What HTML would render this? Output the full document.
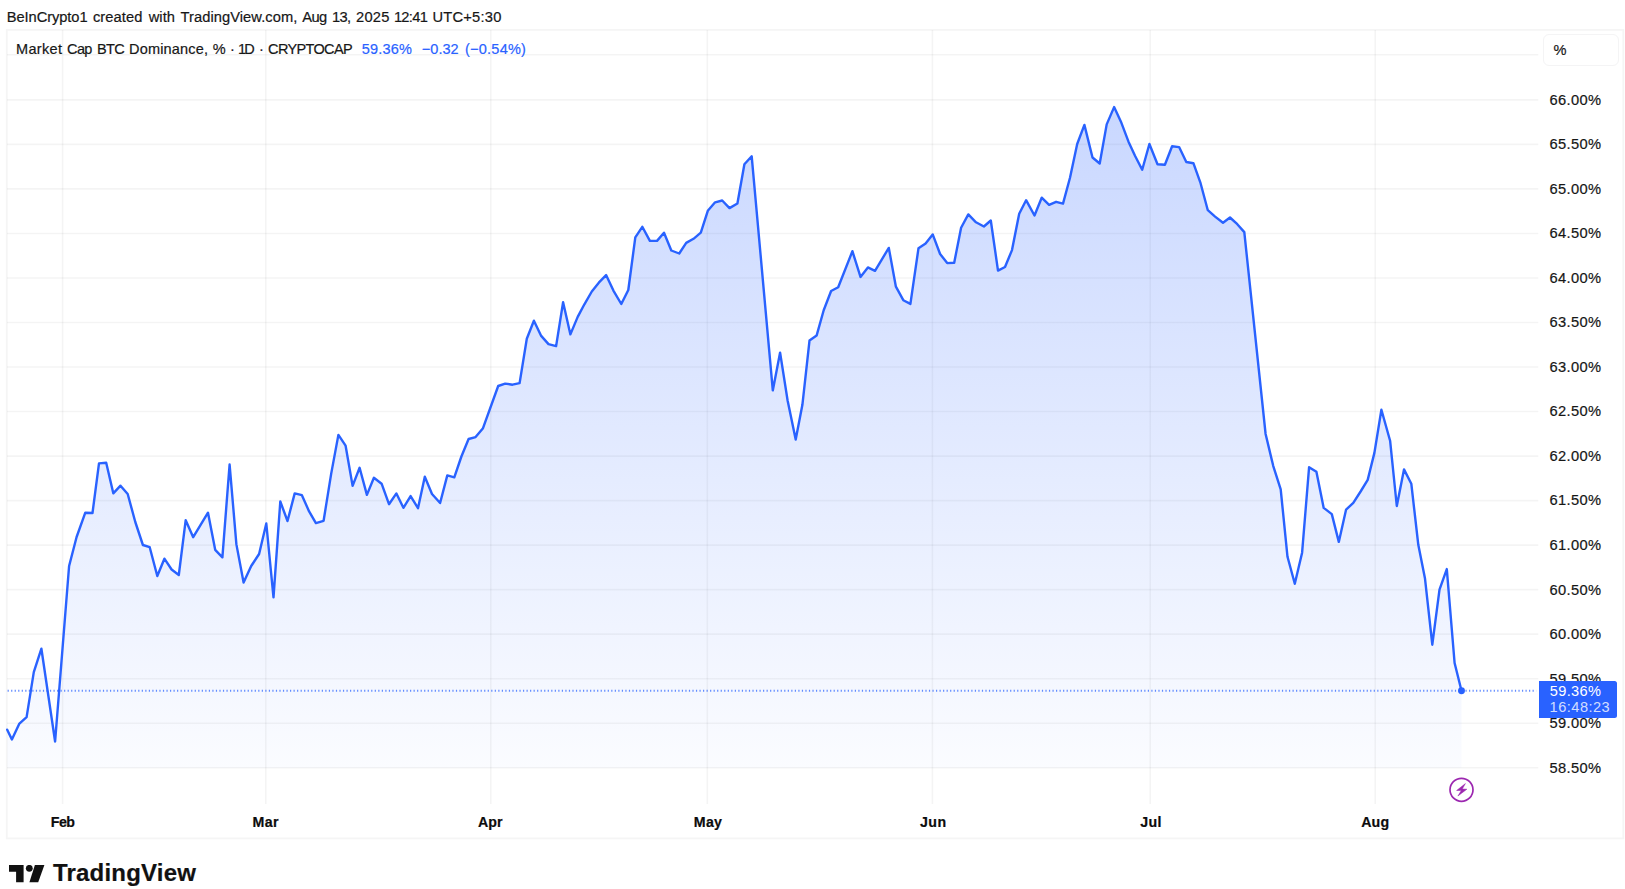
<!DOCTYPE html>
<html lang="en"><head><meta charset="utf-8"><title>Market Cap BTC Dominance</title>
<style>
html,body{margin:0;padding:0;background:#fff;}
body{width:1625px;height:889px;position:relative;overflow:hidden;font-family:"Liberation Sans",Arial,sans-serif;color:#171717;font-size:14px;}
.s{position:absolute;white-space:pre;line-height:20px;height:20px;-webkit-text-stroke:0.2px currentColor;}
svg.chart{position:absolute;left:0;top:0;}
.pct{position:absolute;left:1542.5px;top:34.3px;width:76.3px;height:31.7px;border:1px solid #f4f4f5;border-radius:6px;box-sizing:border-box;background:#fff;}
.last{position:absolute;left:1539px;top:681px;width:78px;height:36.6px;background:#2962ff;border-radius:0 2.5px 2.5px 0;}
.logo{position:absolute;left:9px;top:864.5px;}
</style></head><body>
<svg class="chart" width="1625" height="889" viewBox="0 0 1625 889">
<defs>
<linearGradient id="ag" gradientUnits="userSpaceOnUse" x1="0" y1="30" x2="0" y2="768">
<stop offset="0" stop-color="#2962ff" stop-opacity="0.28"/>
<stop offset="1" stop-color="#2962ff" stop-opacity="0.02"/>
</linearGradient>
</defs>
<rect x="6.8" y="29.9" width="1616.5" height="808.5" fill="none" stroke="#000" stroke-opacity="0.04" stroke-width="1.9"/>
<g stroke="#000" stroke-opacity="0.042" stroke-width="1.6">
<line x1="7" x2="1538.3" y1="54.8" y2="54.8"/>
<line x1="7" x2="1538.3" y1="99.9" y2="99.9"/>
<line x1="7" x2="1538.3" y1="144.4" y2="144.4"/>
<line x1="7" x2="1538.3" y1="188.9" y2="188.9"/>
<line x1="7" x2="1538.3" y1="233.5" y2="233.5"/>
<line x1="7" x2="1538.3" y1="278.0" y2="278.0"/>
<line x1="7" x2="1538.3" y1="322.5" y2="322.5"/>
<line x1="7" x2="1538.3" y1="367.0" y2="367.0"/>
<line x1="7" x2="1538.3" y1="411.5" y2="411.5"/>
<line x1="7" x2="1538.3" y1="456.1" y2="456.1"/>
<line x1="7" x2="1538.3" y1="500.6" y2="500.6"/>
<line x1="7" x2="1538.3" y1="545.1" y2="545.1"/>
<line x1="7" x2="1538.3" y1="589.6" y2="589.6"/>
<line x1="7" x2="1538.3" y1="634.1" y2="634.1"/>
<line x1="7" x2="1538.3" y1="678.7" y2="678.7"/>
<line x1="7" x2="1538.3" y1="723.2" y2="723.2"/>
<line x1="7" x2="1538.3" y1="767.7" y2="767.7"/>
<line x1="62.6" x2="62.6" y1="30" y2="804.0"/>
<line x1="265.8" x2="265.8" y1="30" y2="804.0"/>
<line x1="490.8" x2="490.8" y1="30" y2="804.0"/>
<line x1="707.3" x2="707.3" y1="30" y2="804.0"/>
<line x1="932.4" x2="932.4" y1="30" y2="804.0"/>
<line x1="1150.2" x2="1150.2" y1="30" y2="804.0"/>
<line x1="1375.2" x2="1375.2" y1="30" y2="804.0"/>
</g>
<path d="M7.2,768.1 L7.2,729.7 L11.9,739.4 L19.4,723.6 L26.6,717.1 L33.8,672.1 L41.4,648.7 L55.1,741.5 L69.1,566.0 L76.6,537.0 L85.3,512.7 L92.5,513.0 L99.0,463.4 L106.2,462.7 L113.3,493.3 L120.5,485.7 L127.7,494.0 L135.3,522.0 L142.9,545.0 L149.7,547.2 L157.3,576.0 L164.4,558.7 L171.6,569.5 L178.8,575.0 L185.7,520.2 L193.2,537.2 L208.0,512.7 L215.2,549.8 L222.4,557.3 L229.6,464.5 L236.4,544.4 L243.6,582.5 L251.2,566.0 L259.1,554.0 L266.3,523.5 L273.5,597.3 L280.3,501.5 L287.5,521.0 L294.7,493.4 L301.9,495.2 L309.1,511.4 L315.9,523.1 L323.6,520.8 L331.2,473.6 L338.4,434.9 L345.6,445.7 L352.6,485.9 L359.6,467.8 L366.9,494.9 L373.9,477.8 L381.6,483.7 L389.0,504.2 L396.4,493.4 L403.4,507.8 L410.6,496.1 L418.0,508.2 L424.8,476.7 L432.0,494.0 L440.1,503.0 L447.3,475.4 L454.3,477.4 L461.4,456.5 L468.6,439.0 L475.6,437.1 L483.0,428.2 L498.2,386.0 L505.2,383.6 L512.5,384.7 L519.6,383.1 L526.8,338.8 L533.9,320.7 L541.2,335.9 L548.5,344.1 L556.1,346.1 L563.1,302.3 L570.4,334.4 L577.7,316.9 L584.4,304.3 L591.8,291.5 L598.8,282.7 L606.1,275.1 L613.4,290.6 L621.3,304.0 L628.3,290.0 L635.3,237.4 L642.3,226.8 L649.9,240.9 L657.0,240.9 L664.0,232.7 L671.3,250.5 L679.2,253.5 L686.2,242.9 L693.5,238.8 L700.8,232.7 L707.8,210.8 L715.1,202.3 L722.2,200.5 L729.5,208.1 L737.4,203.5 L744.4,164.3 L751.7,156.3 L772.8,390.4 L780.1,352.6 L787.6,400.5 L795.7,439.5 L802.4,404.8 L809.5,340.6 L816.6,335.6 L823.7,310.3 L831.1,291.0 L838.2,287.3 L852.4,251.2 L860.5,276.9 L867.9,267.4 L875.0,270.8 L888.8,247.9 L895.9,286.7 L903.3,300.2 L910.4,303.9 L918.5,248.2 L925.6,243.5 L932.7,234.4 L940.1,254.0 L947.2,263.1 L954.2,262.7 L961.1,227.7 L968.3,214.4 L976.0,222.3 L983.9,226.5 L990.8,220.5 L998.0,270.6 L1005.0,267.0 L1012.0,250.1 L1019.2,213.7 L1026.1,200.2 L1034.5,215.5 L1041.7,197.7 L1049.1,204.9 L1056.1,201.8 L1063.0,203.6 L1070.0,177.7 L1077.2,144.0 L1084.4,124.9 L1092.5,157.5 L1099.7,163.5 L1106.7,124.4 L1114.1,107.1 L1121.3,122.6 L1128.5,141.7 L1135.0,155.7 L1142.2,169.8 L1149.4,144.0 L1157.5,164.2 L1164.9,164.7 L1172.1,146.2 L1179.1,147.1 L1186.3,162.0 L1193.4,163.2 L1200.3,182.3 L1207.8,210.2 L1215.1,216.6 L1223.0,222.8 L1230.0,217.5 L1237.3,224.2 L1244.3,232.1 L1265.6,434.0 L1273.2,465.8 L1280.7,489.3 L1287.5,556.8 L1294.8,583.8 L1302.1,552.7 L1309.1,467.2 L1316.4,471.8 L1323.7,507.9 L1331.8,514.1 L1338.8,541.9 L1346.1,509.6 L1353.3,502.8 L1360.6,491.5 L1367.7,479.9 L1374.4,452.9 L1381.4,409.7 L1390.1,440.7 L1396.8,506.0 L1404.0,469.4 L1411.3,483.7 L1418.3,544.8 L1425.0,578.6 L1432.3,644.7 L1439.5,589.6 L1446.8,569.1 L1454.6,663.0 L1461.5,690.8 L1461.5,768.1 Z" fill="url(#ag)"/>
<polyline points="7.2,729.7 11.9,739.4 19.4,723.6 26.6,717.1 33.8,672.1 41.4,648.7 55.1,741.5 69.1,566.0 76.6,537.0 85.3,512.7 92.5,513.0 99.0,463.4 106.2,462.7 113.3,493.3 120.5,485.7 127.7,494.0 135.3,522.0 142.9,545.0 149.7,547.2 157.3,576.0 164.4,558.7 171.6,569.5 178.8,575.0 185.7,520.2 193.2,537.2 208.0,512.7 215.2,549.8 222.4,557.3 229.6,464.5 236.4,544.4 243.6,582.5 251.2,566.0 259.1,554.0 266.3,523.5 273.5,597.3 280.3,501.5 287.5,521.0 294.7,493.4 301.9,495.2 309.1,511.4 315.9,523.1 323.6,520.8 331.2,473.6 338.4,434.9 345.6,445.7 352.6,485.9 359.6,467.8 366.9,494.9 373.9,477.8 381.6,483.7 389.0,504.2 396.4,493.4 403.4,507.8 410.6,496.1 418.0,508.2 424.8,476.7 432.0,494.0 440.1,503.0 447.3,475.4 454.3,477.4 461.4,456.5 468.6,439.0 475.6,437.1 483.0,428.2 498.2,386.0 505.2,383.6 512.5,384.7 519.6,383.1 526.8,338.8 533.9,320.7 541.2,335.9 548.5,344.1 556.1,346.1 563.1,302.3 570.4,334.4 577.7,316.9 584.4,304.3 591.8,291.5 598.8,282.7 606.1,275.1 613.4,290.6 621.3,304.0 628.3,290.0 635.3,237.4 642.3,226.8 649.9,240.9 657.0,240.9 664.0,232.7 671.3,250.5 679.2,253.5 686.2,242.9 693.5,238.8 700.8,232.7 707.8,210.8 715.1,202.3 722.2,200.5 729.5,208.1 737.4,203.5 744.4,164.3 751.7,156.3 772.8,390.4 780.1,352.6 787.6,400.5 795.7,439.5 802.4,404.8 809.5,340.6 816.6,335.6 823.7,310.3 831.1,291.0 838.2,287.3 852.4,251.2 860.5,276.9 867.9,267.4 875.0,270.8 888.8,247.9 895.9,286.7 903.3,300.2 910.4,303.9 918.5,248.2 925.6,243.5 932.7,234.4 940.1,254.0 947.2,263.1 954.2,262.7 961.1,227.7 968.3,214.4 976.0,222.3 983.9,226.5 990.8,220.5 998.0,270.6 1005.0,267.0 1012.0,250.1 1019.2,213.7 1026.1,200.2 1034.5,215.5 1041.7,197.7 1049.1,204.9 1056.1,201.8 1063.0,203.6 1070.0,177.7 1077.2,144.0 1084.4,124.9 1092.5,157.5 1099.7,163.5 1106.7,124.4 1114.1,107.1 1121.3,122.6 1128.5,141.7 1135.0,155.7 1142.2,169.8 1149.4,144.0 1157.5,164.2 1164.9,164.7 1172.1,146.2 1179.1,147.1 1186.3,162.0 1193.4,163.2 1200.3,182.3 1207.8,210.2 1215.1,216.6 1223.0,222.8 1230.0,217.5 1237.3,224.2 1244.3,232.1 1265.6,434.0 1273.2,465.8 1280.7,489.3 1287.5,556.8 1294.8,583.8 1302.1,552.7 1309.1,467.2 1316.4,471.8 1323.7,507.9 1331.8,514.1 1338.8,541.9 1346.1,509.6 1353.3,502.8 1360.6,491.5 1367.7,479.9 1374.4,452.9 1381.4,409.7 1390.1,440.7 1396.8,506.0 1404.0,469.4 1411.3,483.7 1418.3,544.8 1425.0,578.6 1432.3,644.7 1439.5,589.6 1446.8,569.1 1454.6,663.0 1461.5,690.8" fill="none" stroke="#2962ff" stroke-width="2.4" stroke-linejoin="round" stroke-linecap="round"/>
<line x1="7.6" x2="1536.2" y1="690.8" y2="690.8" stroke="#2962ff" stroke-width="1.9" stroke-dasharray="1.2 2.33" opacity="0.72"/>
<circle cx="1461.5" cy="690.8" r="3.45" fill="#2962ff"/>
<g transform="translate(1461.5,789.8)" fill="none" stroke="#9c27b0">
<circle r="11.5" stroke-width="1.7"/>
<path d="M3.9,-6.2 L-4.9,0.7 L-0.2,0.8 L-3.6,6.2 L5.4,-0.6 L0.8,-0.8 Z" fill="#9c27b0" stroke="#9c27b0" stroke-width="0.5" stroke-linejoin="round"/>
</g>
</svg>
<div class="pct"></div>
<span class="s" style="left:6.75px;top:6.81px;font-size:14.7px;letter-spacing:-0.082px;">BeInCrypto1</span>
<span class="s" style="left:92.90px;top:6.81px;font-size:14.7px;letter-spacing:0.080px;">created</span>
<span class="s" style="left:148.70px;top:6.81px;font-size:14.7px;letter-spacing:0.050px;">with</span>
<span class="s" style="left:180.50px;top:6.81px;font-size:14.7px;letter-spacing:0.057px;">TradingView.com,</span>
<span class="s" style="left:302.30px;top:6.81px;font-size:14.7px;letter-spacing:-0.682px;">Aug</span>
<span class="s" style="left:331.90px;top:6.81px;font-size:14.7px;letter-spacing:-0.618px;">13,</span>
<span class="s" style="left:356.00px;top:6.81px;font-size:14.7px;letter-spacing:0.232px;">2025</span>
<span class="s" style="left:393.90px;top:6.81px;font-size:14.7px;letter-spacing:-0.697px;">12:41</span>
<span class="s" style="left:432.40px;top:6.81px;font-size:14.7px;letter-spacing:0.231px;">UTC+5:30</span>
<span class="s" style="left:16.00px;top:38.78px;font-size:14.5px;letter-spacing:0.323px;">Market</span>
<span class="s" style="left:67.10px;top:38.78px;font-size:14.5px;letter-spacing:-0.668px;">Cap</span>
<span class="s" style="left:97.10px;top:38.78px;font-size:14.5px;letter-spacing:-0.664px;">BTC</span>
<span class="s" style="left:129.10px;top:38.78px;font-size:14.5px;letter-spacing:0.162px;">Dominance,</span>
<span class="s" style="left:212.85px;top:38.78px;font-size:14.5px;">%</span>
<span class="s" style="left:230.00px;top:38.78px;font-size:14.5px;">·</span>
<span class="s" style="left:237.90px;top:38.78px;font-size:14.5px;letter-spacing:-1.664px;">1D</span>
<span class="s" style="left:258.90px;top:38.78px;font-size:14.5px;">·</span>
<span class="s" style="left:268.10px;top:38.78px;font-size:14.5px;letter-spacing:-0.655px;">CRYPTOCAP</span>
<span class="s" style="left:361.70px;top:38.78px;font-size:14.5px;letter-spacing:0.223px;color:#2962ff;">59.36%</span>
<span class="s" style="left:421.80px;top:38.78px;font-size:14.5px;letter-spacing:0.044px;color:#2962ff;">−0.32</span>
<span class="s" style="left:465.00px;top:38.78px;font-size:14.5px;letter-spacing:0.241px;color:#2962ff;">(−0.54%)</span>
<span class="s" style="left:1549.40px;top:89.81px;font-size:14.7px;letter-spacing:0.389px;">66.00%</span>
<span class="s" style="left:1549.40px;top:134.33px;font-size:14.7px;letter-spacing:0.389px;">65.50%</span>
<span class="s" style="left:1549.40px;top:178.85px;font-size:14.7px;letter-spacing:0.389px;">65.00%</span>
<span class="s" style="left:1549.40px;top:223.37px;font-size:14.7px;letter-spacing:0.389px;">64.50%</span>
<span class="s" style="left:1549.40px;top:267.89px;font-size:14.7px;letter-spacing:0.389px;">64.00%</span>
<span class="s" style="left:1549.40px;top:312.41px;font-size:14.7px;letter-spacing:0.389px;">63.50%</span>
<span class="s" style="left:1549.40px;top:356.93px;font-size:14.7px;letter-spacing:0.389px;">63.00%</span>
<span class="s" style="left:1549.40px;top:401.45px;font-size:14.7px;letter-spacing:0.389px;">62.50%</span>
<span class="s" style="left:1549.40px;top:445.97px;font-size:14.7px;letter-spacing:0.389px;">62.00%</span>
<span class="s" style="left:1549.40px;top:490.49px;font-size:14.7px;letter-spacing:0.389px;">61.50%</span>
<span class="s" style="left:1549.40px;top:535.01px;font-size:14.7px;letter-spacing:0.389px;">61.00%</span>
<span class="s" style="left:1549.40px;top:579.53px;font-size:14.7px;letter-spacing:0.389px;">60.50%</span>
<span class="s" style="left:1549.40px;top:624.05px;font-size:14.7px;letter-spacing:0.389px;">60.00%</span>
<span class="s" style="left:1549.40px;top:668.57px;font-size:14.7px;letter-spacing:0.389px;">59.50%</span>
<span class="s" style="left:1549.40px;top:713.09px;font-size:14.7px;letter-spacing:0.389px;">59.00%</span>
<span class="s" style="left:1549.40px;top:757.61px;font-size:14.7px;letter-spacing:0.389px;">58.50%</span>
<span class="s" style="left:50.70px;top:812.28px;font-size:14.2px;letter-spacing:-0.478px;font-weight:bold;color:#0c0c0c;">Feb</span>
<span class="s" style="left:252.60px;top:812.28px;font-size:14.2px;letter-spacing:0.346px;font-weight:bold;color:#0c0c0c;">Mar</span>
<span class="s" style="left:478.10px;top:812.28px;font-size:14.2px;letter-spacing:-0.056px;font-weight:bold;color:#0c0c0c;">Apr</span>
<span class="s" style="left:693.80px;top:812.28px;font-size:14.2px;letter-spacing:0.296px;font-weight:bold;color:#0c0c0c;">May</span>
<span class="s" style="left:919.90px;top:812.28px;font-size:14.2px;letter-spacing:0.572px;font-weight:bold;color:#0c0c0c;">Jun</span>
<span class="s" style="left:1140.20px;top:812.28px;font-size:14.2px;letter-spacing:0.372px;font-weight:bold;color:#0c0c0c;">Jul</span>
<span class="s" style="left:1361.20px;top:812.28px;font-size:14.2px;letter-spacing:0.144px;font-weight:bold;color:#0c0c0c;">Aug</span>
<span class="s" style="left:52.90px;top:863.48px;font-size:24.0px;letter-spacing:0.204px;font-weight:bold;color:#111;">TradingView</span>
<div class="last"></div>
<span class="s" style="left:1549.80px;top:681.04px;font-size:14.6px;letter-spacing:0.336px;color:#ffffff;-webkit-text-stroke:0;">59.36%</span>
<span class="s" style="left:1549.60px;top:697.34px;font-size:14.6px;letter-spacing:0.473px;color:rgba(255,255,255,0.8);-webkit-text-stroke:0;">16:48:23</span>
<span class="s" style="left:1553.45px;top:40.04px;font-size:14.6px;">%</span>
<svg class="logo" width="36" height="18" viewBox="0 0 36 18"><path fill="#111" d="M0,0 H14.6 V17.2 H7.1 V6.7 H0 Z"/><circle cx="20.3" cy="3.3" r="3.4" fill="#111"/><path fill="#111" d="M25.9,0 H35.4 L29.2,17.2 H20.4 Z"/></svg>
</body></html>
